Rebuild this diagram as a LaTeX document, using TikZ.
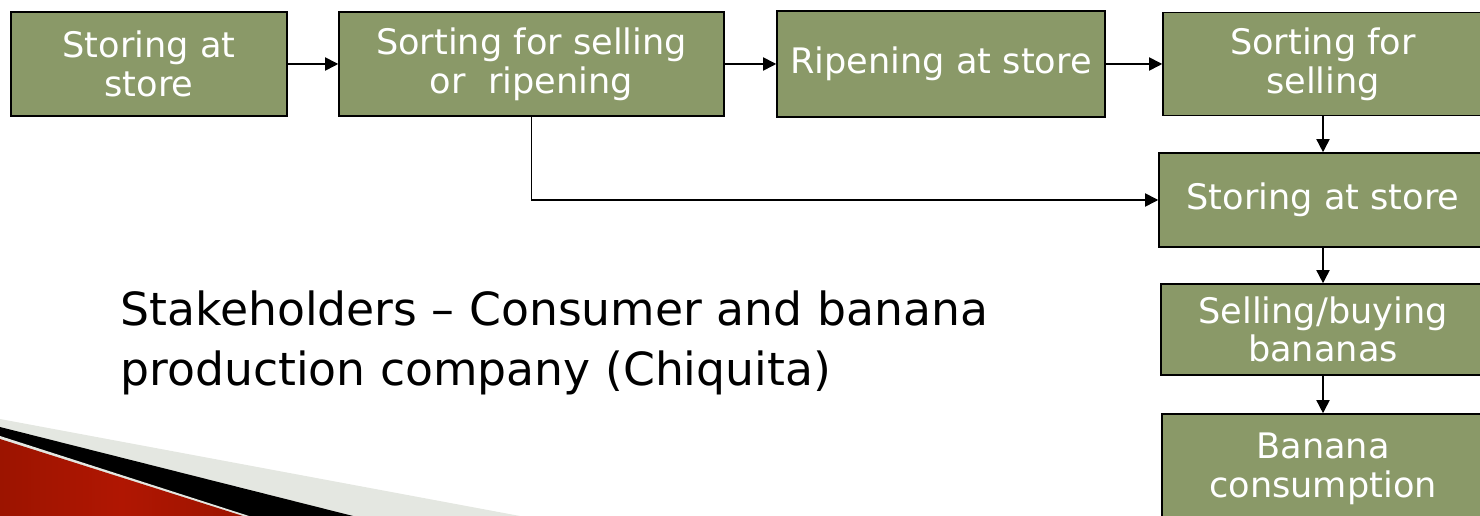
\documentclass[tikz,border=0pt]{standalone}
\usepackage{fontspec}
\setmainfont{DejaVu Sans}
\usetikzlibrary{arrows.meta}

\definecolor{boxgreen}{RGB}{138,153,104}
\definecolor{bandgray}{RGB}{228,231,225}
\definecolor{darkred}{RGB}{156,20,0}
\definecolor{brightred}{RGB}{176,22,2}

\tikzset{
  stage/.style={draw=black,line width=0.9pt,fill=boxgreen,text=white,
    align=center,inner sep=0pt,
    font=\fontsize{20}{22}\selectfont},
  flow/.style={line width=0.9pt,-{Triangle[length=7.5pt,width=7.5pt]}}
}

\begin{document}
\begin{tikzpicture}[x=0.02cm,y=-0.02cm]
\useasboundingbox (0,0) rectangle (1480,516);

% corner bands
\fill[bandgray] (0,419) -- (520,516) -- (0,516) -- cycle;
\fill[black] (0,427) -- (353,516) -- (0,516) -- cycle;
\fill[bandgray] (0,436) -- (249,516) -- (0,516) -- cycle;
\shade[left color=darkred,right color=darkred,middle color=brightred]
  (0,439) -- (243,516) -- (0,516) -- cycle;

% top row
\node[stage,minimum width=5.52cm,minimum height=2.08cm] (store1) at (149,64) {Storing at\\store};
\node[stage,minimum width=7.7cm,minimum height=2.08cm] (sort1) at (531.5,64) {Sorting for selling\\or~~ripening};
\node[stage,minimum width=6.56cm,minimum height=2.12cm] (ripen) at (941,64) {Ripening at store};
\node[stage,minimum width=6.4cm,minimum height=2.06cm] (sort2) at (1323,64) {Sorting for\\selling};

% right column
\node[stage,minimum width=6.56cm,minimum height=1.88cm] (store2) at (1323,200) {Storing at store};
\node[stage,minimum width=6.48cm,minimum height=1.82cm] (sell) at (1323,329.5) {Selling/buying\\bananas};
\node[stage,minimum width=6.44cm,minimum height=2.2cm] (eat) at (1323,469) {Banana\\consumption};

% connectors
\draw[flow] (store1.east) -- (sort1.west);
\draw[flow] (sort1.east) -- (ripen.west);
\draw[flow] (ripen.east) -- (sort2.west);
\draw[flow] (sort2.south) -- (store2.north);
\draw[flow] (sort1.south) |- (store2.west);
\draw[flow] (store2.south) -- (sell.north);
\draw[flow] (sell.south) -- (eat.north);

\node[anchor=west,align=left,inner sep=0pt,
  font=\fontsize{26}{34}\selectfont] (actors) at (120,343)
  {Stakeholders -- Consumer and banana\\production company (Chiquita)};
\end{tikzpicture}
\end{document}
